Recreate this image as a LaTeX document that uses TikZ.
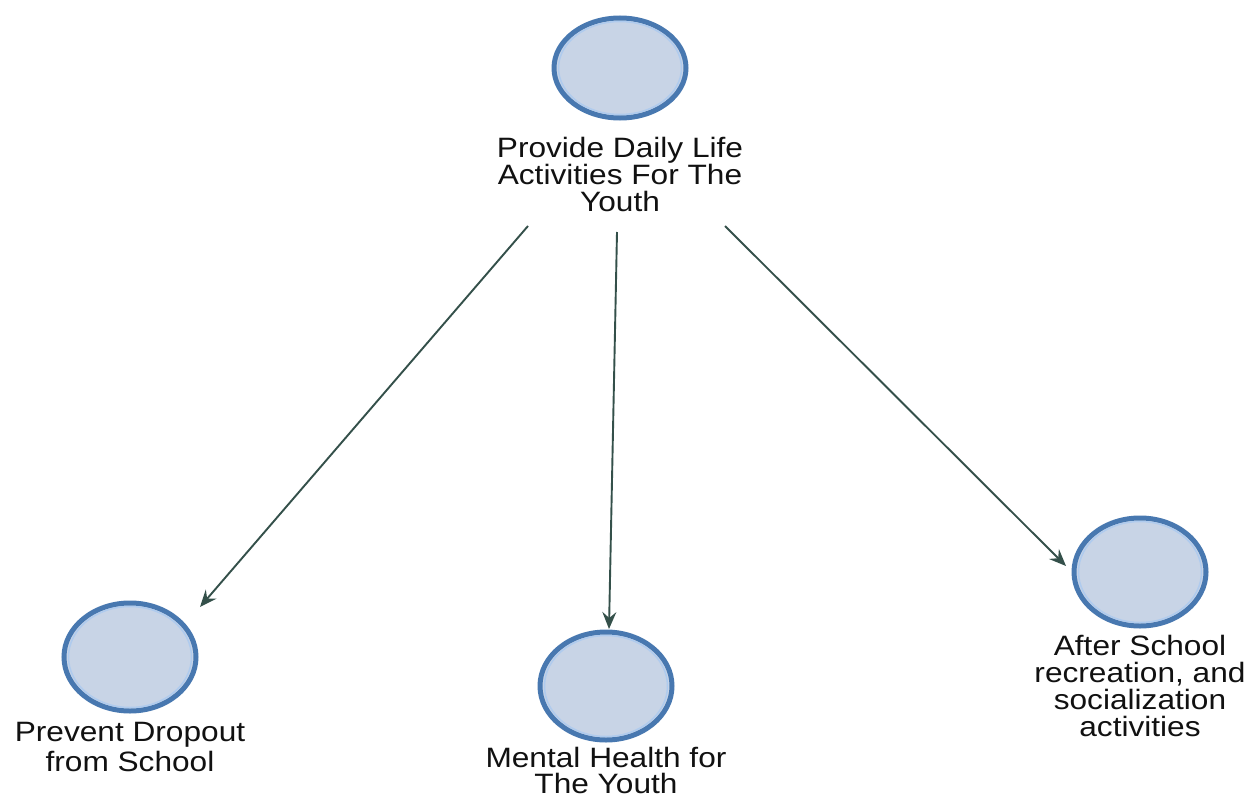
\documentclass[tikz,border=0pt]{standalone}
\usepackage{fontspec}
\setmainfont{Liberation Sans}[FakeStretch=1.13]
\usetikzlibrary{arrows.meta,shapes.geometric}
\definecolor{ringblue}{HTML}{4878B0}
\definecolor{ringlight}{HTML}{AFCBEE}
\definecolor{discfill}{HTML}{C8D4E6}
\definecolor{linkgray}{HTML}{34504A}
\definecolor{labelink}{HTML}{111111}
\tikzset{
  disc/.style={ellipse, minimum width=132pt, minimum height=108pt, inner sep=0pt,
    fill=discfill, draw=ringblue, line width=5pt},
  innerring/.style={ringlight, line width=1.5pt},
  disclabel/.style={anchor=north, inner sep=0pt, align=center, text=labelink,
    font=\fontsize{28pt}{27pt}\selectfont},
  link/.style={draw=linkgray, line width=1.9pt,
    -{Stealth[length=17pt, width=14pt, inset=6pt]}}
}
\begin{document}
\begin{tikzpicture}[x=1pt, y=-1pt]
  \useasboundingbox[fill=white] (0,0) rectangle (1248,803);

  % circles
  \node[disc, minimum height=100pt] (top) at (620,68) {};
  \node[disc] (drop) at (130,657) {};
  \node[disc] (mental) at (606,686) {};
  \node[disc] (after) at (1140,572) {};

  % light inner rings
  \draw[innerring] (top.center) ellipse [x radius=61.5pt, y radius=46.5pt];
  \foreach \n in {drop,mental,after}
    \draw[innerring] (\n.center) ellipse [x radius=61.5pt, y radius=50.5pt];

  % labels
  \node[disclabel] (topL) at (620,137) {Provide Daily Life\\Activities For The\\Youth};
  \node[disclabel, font=\fontsize{28pt}{30pt}\selectfont] (dropL) at (130,722) {Prevent Dropout\\from School};
  \node[disclabel, font=\fontsize{28pt}{26pt}\selectfont] (mentalL) at (606,747) {Mental Health for\\The Youth};
  \node[disclabel] (afterL) at (1140,635) {After School\\recreation, and\\socialization\\activities};

  % connector ends
  \coordinate (s1) at (528,226);
  \coordinate (s2) at (617,232);
  \coordinate (s3) at (725,226);
  \coordinate (e1) at (200,607);
  \coordinate (e2) at (609,629);
  \coordinate (e3) at (1066,566);

  \draw[link] (s1) -- (e1);
  \draw[link] (s2) -- (e2);
  \draw[link] (s3) -- (e3);
\end{tikzpicture}
\end{document}
